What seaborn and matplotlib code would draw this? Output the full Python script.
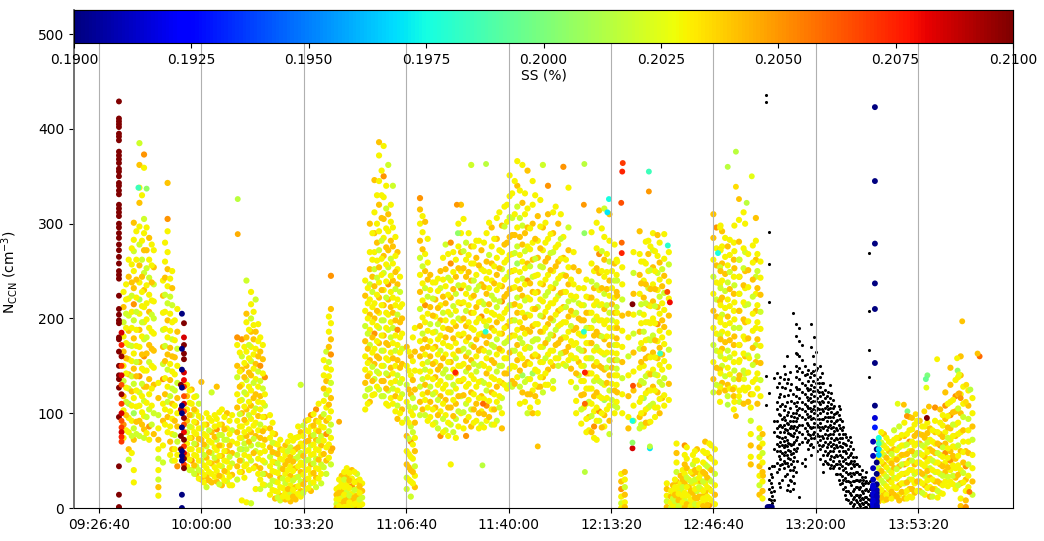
import numpy as np
import pandas as pd
import matplotlib
matplotlib.use('Agg')
import matplotlib.pyplot as plt
import seaborn as sns
from matplotlib.cm import ScalarMappable
from matplotlib.colors import Normalize
from matplotlib.ticker import FuncFormatter

# measurement columns: time (s of day), NCCN values, SS digit (0.200 + d/1000)
main_t = [
    34480, 34580, 34680, 34790, 34880, 34980, 35070, 35160, 35250, 35340, 35430, 35530,
    35720, 35810, 35900, 36000, 36100, 36200, 36300, 36400, 36500, 36600,
    36700, 36790, 36880, 36970, 37060, 37150, 37240, 37340, 37440, 37540, 37640, 37740,
    37840, 37940, 38040, 38140, 38240, 38340, 38440, 38530,
    38640, 38740, 38840, 38940, 39040, 39140,
    39200, 39290, 39380, 39470, 39560, 39650, 39740, 39830, 39920,
    40010, 40090, 40170,
    40270, 40370, 40470, 40570, 40670, 40770, 40870, 40970, 41070, 41170, 41270, 41370,
    41470, 41570, 41670, 41770, 41870, 41970, 42070, 42170, 42270, 42370, 42470, 42570,
    42670, 42770, 42870, 42970, 43070, 43170, 43270, 43370, 43470, 43570, 43670, 43770,
    43870, 43970, 44070, 44120, 44200, 44270,
    44340, 44440,
    44560, 44640, 44730, 44820, 44910, 45000, 45090, 45170,
    45210, 45280, 45360, 45440, 45520, 45600, 45680, 45760, 45840, 45920, 46000, 46060,
    46170, 46400, 46620, 46830,
    46130, 46280, 46510, 46730, 46900,
    46960,
    49230, 49330, 49430, 49530, 49630, 49730, 49830, 49930, 50030, 50130, 50230, 50330,
    50430, 50530, 50630, 50730, 50830, 50930, 51030, 51100,
]
main_n = [
    [228, 212, 196, 181, 165, 150, 134, 118, 103, 88, 74],
    [262, 244, 221, 203, 187, 172, 157, 141, 126, 110, 95, 80, 62, 51],
    [301, 283, 271, 250, 232, 215, 198, 179, 163, 147, 131, 116, 100, 84, 72, 40, 27],
    [385, 362, 338, 322, 297, 278, 256, 238, 220, 205, 188, 170, 154, 139, 122, 108, 92, 76],
    [373, 359, 305, 290, 272, 248, 230, 212, 196, 178, 160, 145, 128, 113, 97, 83, 74],
    [285, 262, 243, 225, 207, 190, 172, 154, 136, 120, 104, 86, 72],
    [272, 254, 236, 218, 200, 184, 166, 148, 130, 100, 78],
    [132, 116, 98, 84, 72, 62, 52, 40, 30, 22, 13],
    [240, 224, 206, 188, 170, 152, 136, 110, 92, 66, 48],
    [343, 305, 292, 270, 252, 234, 216, 198, 180, 162, 146, 128, 112, 96, 80],
    [250, 232, 214, 196, 178, 160, 144, 126, 110, 94, 78, 62, 50],
    [210, 186, 168, 150, 132, 116, 100, 86, 70, 56, 44],
    [130, 118, 104, 92, 80, 68, 56, 44],
    [125, 110, 98, 85, 74, 62, 50, 40],
    [118, 102, 90, 78, 67, 55, 44, 36],
    [133, 95, 84, 72, 61, 50, 38, 30],
    [100, 88, 76, 65, 53, 42, 33, 22],
    [122, 92, 80, 69, 58, 47, 36, 27],
    [128, 94, 83, 72, 61, 50, 39, 28],
    [104, 88, 77, 66, 55, 44, 33, 24],
    [100, 84, 72, 60, 49, 38, 28],
    [98, 82, 70, 58, 47, 35, 24],
    [180, 172, 150, 138, 120, 106, 92, 80, 68, 56, 44, 30],
    [178, 160, 146, 130, 114, 100, 86, 74, 62, 50, 38, 8],
    [240, 205, 196, 180, 165, 150, 135, 120, 104, 90, 76, 62, 46, 6],
    [228, 215, 200, 186, 170, 155, 140, 124, 108, 94, 80, 66, 50, 5],
    [220, 186, 168, 152, 136, 120, 105, 90, 76, 60, 44, 20],
    [180, 165, 150, 134, 118, 104, 88, 74, 58, 42, 30, 20],
    [138, 120, 108, 96, 84, 72, 60, 48, 36, 24],
    [98, 84, 74, 64, 54, 44, 34, 24, 14],
    [78, 68, 58, 48, 38, 28, 18, 10],
    [72, 62, 52, 42, 32, 22, 13, 8],
    [66, 56, 46, 36, 26, 16, 9],
    [76, 64, 54, 44, 34, 24, 15, 7],
    [74, 62, 52, 42, 32, 22, 14, 9],
    [130, 80, 68, 58, 48, 38, 28, 18, 12],
    [92, 82, 70, 60, 50, 40, 30, 20],
    [98, 86, 76, 66, 56, 46, 36, 26, 18],
    [104, 92, 82, 72, 62, 52, 42, 32, 22],
    [96, 86, 76, 66, 56, 46, 36, 26],
    [165, 148, 134, 120, 106, 92, 78, 64, 50, 36],
    [245, 210, 195, 178, 162, 146, 132, 116, 102, 88, 74, 60, 46],
    [20, 14, 9, 4, 0],
    [34, 26, 18, 11, 5, 0],
    [42, 33, 25, 17, 10, 3],
    [40, 31, 23, 15, 8, 1],
    [36, 28, 20, 13, 6, 0],
    [26, 18, 11, 4],
    [240, 224, 208, 192, 176, 160, 146, 132, 118, 104],
    [300, 270, 252, 236, 220, 204, 188, 172, 156, 142, 126, 112],
    [346, 312, 290, 270, 252, 234, 216, 200, 184, 168, 152, 136, 120],
    [386, 372, 345, 320, 292, 272, 254, 238, 222, 206, 190, 174, 158, 142, 125],
    [382, 350, 328, 305, 285, 266, 248, 230, 214, 198, 182, 166, 150, 134, 118],
    [362, 310, 292, 272, 254, 236, 220, 204, 188, 172, 156, 140, 124, 108],
    [340, 296, 276, 258, 240, 222, 206, 190, 174, 158, 142, 126, 110],
    [270, 252, 236, 220, 204, 188, 172, 156, 140, 124, 108, 94],
    [215, 200, 184, 168, 152, 136, 120, 104, 90],
    [170, 150, 130, 112, 94, 76, 60, 46, 32, 20],
    [160, 140, 120, 102, 86, 70, 54, 40, 28, 12],
    [190, 165, 145, 125, 106, 90, 74, 60, 44, 34, 22],
    [327, 315, 300, 282, 264, 246, 228, 210, 192, 176, 160, 144, 128, 112, 98],
    [302, 268, 250, 232, 214, 196, 178, 162, 146, 130, 114, 98],
    [246, 230, 212, 194, 176, 160, 144, 128, 112, 96],
    [238, 220, 202, 186, 170, 154, 138, 122, 106, 90],
    [250, 232, 214, 198, 182, 166, 150, 134, 118, 102, 76],
    [278, 252, 234, 216, 198, 180, 162, 146, 130, 114, 98, 82],
    [280, 258, 240, 222, 204, 188, 170, 154, 138, 122, 106, 88, 46],
    [262, 244, 226, 208, 192, 174, 158, 142, 126, 110, 94, 74],
    [320, 290, 270, 250, 232, 216, 198, 182, 166, 150, 134, 118, 100],
    [280, 262, 244, 226, 208, 192, 176, 160, 144, 128, 110, 92, 76],
    [362, 276, 258, 240, 222, 206, 190, 172, 156, 140, 122, 104, 86],
    [282, 264, 246, 230, 212, 196, 178, 160, 144, 128, 110, 92],
    [272, 252, 236, 218, 202, 184, 168, 152, 134, 118, 102, 88],
    [290, 260, 242, 226, 208, 192, 174, 158, 142, 124, 108, 92],
    [296, 276, 258, 240, 224, 206, 190, 172, 156, 138, 122, 104, 88],
    [306, 284, 264, 246, 230, 212, 196, 178, 162, 144, 128, 112, 92],
    [298, 270, 252, 234, 218, 200, 184, 166, 150, 132, 116, 100, 84],
    [320, 302, 280, 262, 244, 226, 210, 192, 176, 158, 142, 126],
    [332, 306, 288, 268, 250, 232, 214, 198, 182, 166, 150, 134, 128],
    [366, 340, 318, 296, 276, 258, 240, 222, 206, 188, 172, 156, 138],
    [362, 322, 298, 278, 260, 242, 224, 206, 190, 174, 158, 140, 122],
    [356, 316, 296, 276, 258, 240, 222, 204, 188, 170, 154, 136, 120, 100],
    [345, 320, 300, 280, 262, 244, 228, 210, 192, 176, 160, 142, 124, 100],
    [308, 282, 264, 246, 228, 212, 194, 178, 160, 144, 128, 112, 100],
    [362, 296, 272, 254, 236, 218, 202, 186, 170, 154, 138, 122],
    [340, 310, 284, 264, 246, 228, 212, 194, 178, 162, 146, 130],
    [312, 290, 270, 250, 232, 216, 198, 182, 166, 150, 134, 126],
    [300, 278, 260, 242, 224, 208, 192, 174, 158, 150],
    [360, 286, 264, 246, 228, 212, 196, 180, 164, 152],
    [338, 296, 272, 254, 236, 218, 202, 186, 170, 156],
    [270, 254, 236, 220, 204, 188, 172, 158],
    [250, 232, 216, 200, 184, 168, 154, 140],
    [232, 214, 198, 182, 166, 150, 134, 120, 106],
    [222, 206, 190, 174, 158, 142, 126, 112, 96, 82],
    [250, 232, 214, 198, 182, 166, 150, 134, 118, 102, 86, 74],
    [314, 268, 248, 230, 214, 198, 182, 166, 150, 134, 118, 102, 92],
    [316, 286, 262, 244, 226, 210, 194, 178, 162, 146, 130, 114, 98, 86],
    [310, 282, 260, 240, 224, 206, 190, 172, 156, 140, 124, 108, 92, 78],
    [278, 258, 240, 222, 206, 190, 172, 156, 140, 124, 108, 100],
    [260, 240, 224, 206, 190, 172, 156, 140, 122, 106],
    [36, 28, 20, 12, 5, 0],
    [38, 30, 22, 14, 6, 1],
    [205, 180, 160, 140, 118, 96, 84],
    [270, 248, 226, 204, 184, 164, 144, 124, 108, 92],
    [292, 268, 246, 226, 206, 186, 168, 148, 130, 112, 96, 84],
    [260, 240, 222, 204, 186, 168, 150, 132, 116, 100, 86],
    [282, 268, 250, 232, 214, 196, 178, 160, 142, 124, 106, 90],
    [290, 272, 254, 236, 218, 200, 182, 164, 146, 128, 110],
    [288, 266, 248, 230, 212, 194, 176, 158, 140, 122, 106],
    [252, 234, 216, 198, 180, 162, 146, 130, 116],
    [26, 20, 13, 7, 1],
    [18, 12, 6, 0],
    [24, 17, 10, 3],
    [68, 58, 48, 38, 28, 20, 12, 5],
    [34, 26, 18, 10, 3],
    [66, 56, 46, 36, 26, 16, 8, 1],
    [30, 22, 14, 6],
    [56, 46, 36, 26, 16, 8, 0],
    [62, 50, 38, 28, 18, 10, 2],
    [36, 28, 20, 12, 5],
    [70, 58, 46, 36, 26, 16, 8, 0],
    [68, 54, 42, 30, 20, 10, 3],
    [310, 285, 262, 244, 226, 208, 190, 172, 154, 136, 122],
    [296, 274, 256, 238, 220, 202, 184, 166, 148, 130],
    [292, 276, 258, 240, 222, 204, 186, 168, 150, 132],
    [280, 262, 244, 226, 208, 190, 172, 154, 136, 118, 104],
    [300, 270, 250, 232, 214, 196, 178, 160, 142, 124],
    [306, 282, 262, 244, 226, 208, 190, 172, 154, 136],
    [296, 272, 254, 236, 218, 200, 182, 164, 146, 128, 112],
    [276, 256, 238, 220, 202, 184, 166, 148, 130, 118],
    [262, 244, 226, 208, 190, 172, 156, 140, 124, 112],
    [120, 106, 92, 78, 66, 54, 46],
    [84, 74, 64, 54, 44, 34, 24, 14],
    [78, 68, 58, 48, 38, 28, 18, 10],
    [72, 62, 52, 42, 32, 22, 13, 7],
    [78, 66, 56, 46, 36, 26, 16, 8],
    [70, 60, 50, 40, 30, 20, 12],
    [82, 72, 62, 52, 42, 32, 22, 14],
    [86, 74, 64, 54, 44, 34, 24, 14, 8],
    [90, 76, 66, 56, 46, 36, 26, 16, 10],
    [96, 82, 70, 60, 50, 40, 30, 20, 12],
    [88, 76, 66, 56, 46, 36, 26, 16],
    [92, 78, 68, 58, 48, 38, 28, 18],
    [86, 74, 64, 54, 44, 34, 24, 14],
    [84, 72, 62, 52, 42, 32, 22, 12],
    [106, 92, 80, 68, 58, 48, 38, 28, 20],
    [104, 90, 78, 66, 56, 46, 36, 26, 16],
    [122, 108, 94, 80, 68, 58, 48, 38, 28],
    [148, 130, 112, 98, 84, 72, 60, 50, 40, 28],
    [135, 118, 102, 88, 76, 64, 52, 42, 32, 20],
    [160, 140, 120, 100, 80, 60, 40, 26, 10, 2],
    [60, 44, 30, 18, 8, 1],
]
main_ss = [
    '34234324353', '34324234213342', '43234524342312433', '243432431343452342', '53234243325342342',
    '4323434243253', '34232343424', '34234323243', '34324253432', '453343243423243', '3423243243342',
    '34232434235', '34342343', '43234352', '23434324', '43243234', '34324342', '23432434', '43523434',
    '34234234', '4324332', '3234243', '534234343242', '524324321243', '24343423434233', '33243243434222',
    '243434234243', '345243243432', '5324343242', '343423423', '43243234', '34324342', '4343234',
    '32434324', '34243434', '243234243', '43432343', '534234324', '543432342', '43243232', '2342345342',
    '5434532432342', '34324', '434243', '343243', '435342', '243434', '3423', '3432433423', '434234324324',
    '4343243453423', '433432434324432', '353434234243242', '24342543243423', '2343434234323', '434325342324',
    '343243243', '4323243422', '4343253432', '34342434234', '543423424343242', '434253432432', '4342343243',
    '3432434342', '42343243435', '243434323432', '5534243432423', '342343243423', '4343543423423',
    '2343243423245', '2434343243424', '343243432343', '434253432432', '343432434253', '4343234243432',
    '3434324232432', '4324534324234', '334324342343', '3243433442342', '3423213243443', '3424324342314',
    '43434532434242', '33434243424134', '4343423243433', '243243432342', '543432342343', '342343243423',
    '4343243432', '5342343243', '3243424343', '34323432', '43243242', '324342343', '4343243243',
    '343243424353', '4543234342352', '23432434243143', '43243234242342', '342343243423', '3243432342',
    '345323', '432434', '4323434', '3243243432', '434324234342', '33432432143', '343243243424',
    '32434324342', '43234534343', '243434324', '34324', '3432', '4323', '34324343', '43243', '53434324',
    '3432', '3243434', '4343243', '34343', '43243432', '3432435', '44323432342', '5343243242', '4343423424',
    '34343243243', '3243243423', '4342343243', '34234323423', '4323432342', '3423243432',
    '4323434', '32434324', '43234343', '34324324', '43243243', '3432435', '23434234',
    '242343434', '342354234', '435343243', '34324234', '43423434', '34343243', '43432434', '534343243',
    '434534243', '454345343', '4435434533', '3543434343', '4434343434', '454345',
]

# second reading pass over the dense parts
fill_t = [
    34530, 34640, 34730, 34840, 34930, 35030, 35290, 35390, 35480,
    35770, 35860, 35950, 36050, 36150, 36260, 36350, 36450, 36550,
    36750, 36840, 36930, 37020, 37110, 37200,
    37390, 37490, 37590, 37690, 37790, 37890, 37990, 38090, 38190, 38290, 38390, 38490,
    38690, 38790, 38890, 38990, 39090,
    39250, 39340, 39430, 39520, 39610, 39700, 39790, 39880,
    40050, 40130,
    40320, 40420, 40520, 40620, 40720, 40820, 40920, 41020, 41120, 41220, 41320, 41420,
    41520, 41620, 41720, 41820, 41920, 42020, 42120, 42220, 42320, 42420, 42520, 42620,
    42720, 42820, 42920, 43020, 43120, 43220, 43320, 43420, 43520, 43620, 43720, 43820,
    43920, 44020, 44110, 44220,
    44590, 44680, 44770, 44860, 44950, 45040, 45130,
    45250, 45320, 45400, 45480, 45560, 45640, 45720, 45800, 45880, 45960, 46030,
    46140, 46230, 46320, 46410, 46500, 46590, 46680, 46770, 46860, 46920,
    49280, 49380, 49480, 49580, 49680, 49780, 49880, 49980, 50080, 50180,
    50280, 50380, 50480, 50580, 50680, 50780, 50880, 50980, 51060,
]
fill_n = [
    [236, 220, 205, 190, 174, 158, 142, 127, 112, 98, 82],
    [274, 257, 238, 224, 207, 190, 171, 155, 139, 123, 108, 92, 76, 58],
    [292, 262, 241, 222, 207, 188, 171, 154, 139, 124, 107, 91, 78],
    [330, 282, 262, 244, 228, 213, 196, 181, 162, 147, 131, 118, 101, 88],
    [296, 272, 253, 235, 216, 199, 180, 163, 145, 128, 111, 96, 79],
    [278, 256, 238, 219, 204, 186, 168, 150, 126, 108, 88],
    [280, 260, 243, 225, 207, 189, 171, 155, 137, 120, 104, 88],
    [242, 223, 205, 187, 169, 152, 135, 118, 102, 86, 70, 56],
    [198, 177, 159, 141, 124, 108, 92, 77, 62, 50],
    [124, 111, 98, 86, 74, 62, 51, 40],
    [117, 104, 91, 80, 68, 56, 45, 36],
    [110, 97, 84, 73, 61, 50, 40, 31],
    [88, 78, 67, 56, 45, 35, 27],
    [95, 82, 71, 59, 48, 38, 29],
    [98, 86, 75, 64, 53, 43, 33],
    [101, 88, 77, 66, 55, 45, 34, 25],
    [96, 83, 72, 60, 50, 39, 29],
    [92, 78, 66, 54, 43, 33, 24],
    [164, 144, 128, 113, 99, 86, 74, 62, 50, 38],
    [170, 153, 138, 122, 107, 93, 80, 68, 56, 44, 32],
    [188, 172, 158, 143, 128, 112, 98, 83, 70, 54, 40],
    [207, 193, 178, 162, 147, 132, 116, 101, 87, 73, 58, 42],
    [194, 176, 160, 144, 128, 112, 97, 82, 67, 52, 36],
    [172, 157, 142, 126, 111, 96, 81, 66, 50, 36, 25],
    [90, 79, 69, 59, 49, 39, 29, 19],
    [67, 57, 47, 37, 27, 17, 11],
    [61, 51, 41, 31, 21, 12],
    [70, 60, 50, 40, 30, 20, 11],
    [71, 59, 49, 39, 29, 19, 12],
    [86, 75, 64, 54, 44, 33, 23, 15],
    [87, 76, 65, 55, 45, 35, 25, 16],
    [93, 81, 71, 61, 51, 41, 31, 21],
    [99, 87, 77, 67, 57, 47, 37, 27],
    [110, 91, 81, 71, 61, 51, 41, 31],
    [156, 140, 126, 113, 99, 85, 71, 57, 43],
    [202, 186, 170, 154, 139, 124, 109, 95, 81, 67, 53],
    [30, 22, 16, 9, 2],
    [38, 30, 22, 14, 7, 1],
    [37, 29, 21, 13, 6, 0],
    [38, 27, 19, 11, 4],
    [30, 23, 16, 9, 2],
    [232, 216, 200, 184, 168, 153, 139, 125, 110],
    [290, 262, 244, 228, 212, 196, 180, 164, 149, 134, 119],
    [330, 300, 280, 261, 243, 225, 208, 192, 176, 160, 144, 128],
    [356, 330, 306, 282, 263, 246, 230, 214, 198, 182, 166, 150, 134, 118],
    [340, 316, 295, 275, 257, 239, 222, 206, 190, 174, 158, 142, 126, 110],
    [320, 302, 282, 263, 245, 228, 212, 196, 180, 164, 148, 132, 116],
    [286, 266, 249, 231, 214, 198, 182, 166, 150, 134, 118, 102],
    [244, 228, 212, 196, 180, 164, 148, 132, 116, 100],
    [165, 145, 125, 107, 90, 73, 57, 43, 30],
    [180, 155, 135, 116, 98, 80, 67, 52, 38, 26],
    [308, 291, 273, 255, 237, 219, 201, 184, 168, 152, 136, 120, 104],
    [284, 259, 241, 223, 205, 187, 170, 154, 138, 122, 106, 92],
    [238, 221, 203, 185, 168, 152, 136, 120, 104, 88],
    [242, 229, 211, 194, 178, 162, 146, 130, 114, 98, 84],
    [264, 241, 223, 206, 190, 174, 158, 142, 126, 110, 94, 80],
    [268, 243, 225, 207, 189, 171, 154, 138, 122, 106, 90, 76],
    [270, 249, 231, 213, 196, 179, 162, 146, 130, 114, 97, 80],
    [300, 276, 253, 235, 217, 200, 183, 166, 150, 134, 118, 102, 86],
    [305, 271, 253, 235, 217, 200, 184, 168, 152, 136, 119, 101, 84],
    [290, 267, 249, 232, 214, 196, 180, 164, 148, 131, 114, 96],
    [276, 258, 240, 224, 206, 188, 170, 152, 136, 120, 104, 90],
    [282, 256, 234, 217, 200, 183, 166, 150, 133, 116, 100, 84],
    [280, 250, 233, 215, 197, 182, 166, 150, 132, 115, 99, 85],
    [301, 267, 249, 232, 215, 198, 181, 164, 147, 130, 113, 96],
    [284, 255, 237, 220, 204, 187, 170, 153, 136, 120, 104, 88],
    [312, 272, 253, 235, 218, 202, 184, 168, 150, 134, 118, 106],
    [318, 297, 278, 259, 241, 223, 206, 190, 174, 158, 142, 130],
    [351, 329, 307, 286, 267, 249, 231, 214, 197, 180, 164, 147, 130],
    [345, 310, 288, 269, 251, 233, 215, 198, 182, 166, 149, 131],
    [335, 306, 286, 267, 249, 231, 213, 196, 179, 162, 145, 128, 110],
    [332, 310, 290, 271, 253, 236, 219, 201, 184, 168, 151, 133, 112],
    [295, 273, 255, 237, 220, 203, 186, 169, 152, 136, 120, 106],
    [330, 284, 263, 245, 227, 210, 194, 178, 162, 146, 130, 118],
    [325, 297, 274, 255, 237, 220, 203, 186, 170, 154, 138, 128],
    [301, 280, 260, 241, 224, 207, 190, 174, 158, 142, 130],
    [289, 269, 251, 233, 216, 200, 183, 166, 154],
    [318, 275, 255, 237, 220, 204, 188, 172, 158],
    [310, 284, 263, 245, 227, 210, 194, 178, 163],
    [262, 245, 228, 212, 196, 180, 165, 150],
    [241, 224, 208, 192, 176, 161, 147, 133],
    [223, 206, 190, 174, 158, 142, 127, 113, 100],
    [214, 198, 182, 166, 150, 134, 119, 104, 89],
    [241, 223, 206, 190, 174, 158, 142, 126, 110, 94, 80],
    [291, 258, 239, 222, 206, 190, 174, 158, 142, 126, 110, 97, 80],
    [301, 274, 253, 235, 218, 202, 186, 170, 154, 138, 122, 106, 92, 72],
    [295, 271, 250, 232, 215, 198, 181, 164, 148, 132, 116, 100, 85],
    [268, 249, 231, 214, 198, 181, 164, 148, 132, 116, 104],
    [250, 232, 215, 198, 181, 164, 148, 131, 114],
    [262, 246, 228, 212, 196, 179, 163, 147, 130, 112],
    [254, 236, 220, 203, 187, 170, 154, 137, 120, 100],
    [260, 237, 215, 195, 174, 154, 134, 116, 100, 88],
    [281, 258, 236, 216, 196, 177, 158, 139, 121, 104, 90],
    [276, 251, 231, 213, 195, 177, 159, 141, 124, 108, 91],
    [271, 250, 231, 213, 195, 177, 159, 141, 124, 106, 96],
    [280, 259, 241, 223, 205, 187, 169, 151, 133, 115, 100],
    [289, 263, 245, 227, 209, 191, 173, 155, 137, 119, 108],
    [270, 257, 239, 221, 203, 185, 167, 149, 131, 114],
    [30, 22, 14, 7, 1],
    [22, 15, 8, 2],
    [40, 30, 22, 13, 6],
    [64, 52, 42, 32, 22, 13, 4],
    [38, 28, 18, 9, 2],
    [60, 50, 40, 30, 20, 11, 4],
    [42, 32, 22, 12, 4],
    [60, 48, 38, 28, 18, 10, 2],
    [58, 44, 32, 22, 12, 3],
    [66, 52, 40, 28, 18, 8],
    [62, 48, 36, 24, 14, 4],
    [298, 272, 250, 232, 214, 196, 178, 160, 142, 126],
    [285, 265, 247, 229, 211, 193, 175, 157, 139, 124],
    [283, 267, 249, 231, 213, 195, 177, 159, 141, 126],
    [298, 271, 253, 235, 217, 199, 181, 163, 145, 127, 112],
    [304, 281, 262, 244, 226, 208, 190, 172, 154, 136, 118],
    [312, 274, 253, 235, 217, 199, 181, 163, 145, 127, 110],
    [268, 251, 233, 215, 197, 179, 161, 143, 127, 112],
    [277, 259, 241, 223, 205, 187, 169, 151, 133, 120],
    [268, 250, 232, 214, 196, 178, 160, 142, 126, 110],
    [260, 243, 225, 207, 189, 171, 153, 135, 118],
    [80, 69, 59, 49, 39, 29, 19, 11],
    [74, 63, 53, 43, 33, 23, 14, 9],
    [68, 57, 47, 37, 27, 17, 10],
    [74, 61, 51, 41, 31, 21, 12],
    [77, 66, 56, 46, 36, 26, 17],
    [78, 67, 57, 47, 37, 27, 18, 10],
    [83, 70, 60, 50, 40, 30, 20, 11],
    [92, 79, 68, 58, 48, 38, 28, 18],
    [86, 77, 66, 56, 46, 36, 26, 16],
    [90, 79, 69, 59, 49, 39, 29, 21],
    [82, 70, 60, 50, 40, 30, 20, 12],
    [80, 68, 58, 48, 38, 28, 18, 11],
    [98, 87, 75, 64, 54, 44, 34, 24, 15],
    [110, 97, 85, 74, 63, 53, 43, 33, 23],
    [114, 101, 88, 76, 65, 55, 45, 34, 25],
    [138, 120, 105, 90, 78, 66, 55, 45, 35, 24],
    [128, 110, 96, 82, 70, 59, 48, 37, 27],
    [124, 108, 94, 82, 70, 58, 46, 34, 22],
    [116, 100, 86, 72, 56, 42, 28, 14],
]
fill_ss = [
    '33233433243342', '33423323243323', '33432332433423', '33243323432334', '34233324343233',
    '33432343332423', '33423324343342', '32334342334323', '33432342334233', '33423332433243',
    '34332342334323', '23343323432334', '33423334233243', '32343343233423', '33432333423343',
    '33243342332343', '34233433243332', '33423333243342', '33432332433423', '33423432333234',
    '32343323433243', '33433243324334', '33423343233423', '34323343323343', '33243323432332',
    '34233323343243', '33423334323343', '32433433234323', '33432343323432', '33423233433243',
    '23343342332343', '33432333423343', '34233243343323', '33423433233243', '33432334233423',
    '33423343233432', '33433243342332', '32334334233243', '34323342334323', '33243342332433',
    '34323343324332', '33324342334323', '33423343243233', '33432343342333', '33423343232342',
    '32343323343243', '33423343234333', '33423432334323', '32343342333423', '33423234334233',
    '33423233433423', '33423332432343', '33423342343323', '32433432334233', '33423343242332',
    '33423342332343', '32334332343343', '33423433234233', '33423234334233', '32433432334233',
    '33423342433323', '33243342334323', '34233342334323', '33423433234333', '32334342333423',
    '33423324334323', '33432334233233', '32433433234332', '33243342334323', '33423342323432',
    '32433433234232', '33423324334233', '33243342334323', '34233432333423', '33423324333423',
    '33432334233343', '32433423343323', '33423324333423', '32334334233423', '34323342334233',
    '33423343243342', '32433423343233', '34323342334323', '33423343233423', '33243342333243',
    '33423342334333', '32343323423343', '33423332433232', '33423343233423', '33423432334233',
    '33243342334323', '34233423323433', '33423342334233', '32433234323343', '33423432333243',
    '34323343234233', '33423433233423', '32334323433243', '33423342334323', '33423343233243',
    '34233234334233', '33423343233423', '32433433233423', '33423423343323', '33243342333423',
    '33423343233243', '32433433233423', '33423323433423', '33234332334233', '33423342333243',
    '33423343243324', '33243342334232', '33423343233423', '34233423343323', '33243433234232',
    '34323423343233', '33423342334233', '32433423343232', '33423342334323', '32334234334233',
    '33432334233423', '32433433233423', '33423342343323', '33423343233423', '32433433234232',
    '33423343243323', '34323343233423', '34233432333423', '34233433233423', '33423342334233',
    '34233423343233', '33423423343323', '33423342334323', '34233432334233', '34233233423343',
    '33243342334233', '34233423343323', '33423342334233', '34233432334323', '33423342334232',
]

# single points that stand out from the yellow mass
spot_t = [34770, 34930, 36710, 36710, 44740, 44740, 44760, 44760, 43930, 43960, 44230, 44220, 44200,
          44210, 44210, 43470, 43480, 43480, 43490, 43490, 43470, 43490, 44420, 44420, 44420, 44420,
          44430, 45110, 45100, 45150, 44960, 40990, 41010, 41560, 40960, 41500, 41550, 41490, 38560,
          38690, 42570, 46440, 46280, 46750, 46440, 46500, 46650, 46090, 46110, 50860, 51200, 51160,
          50370, 50760, 50770, 50180, 50150, 50800, 50170, 50160, 50800, 51020, 50830, 50930, 50210,
          50120, 49950, 49790, 49600, 49720, 49780, 51000, 49880, 50940, 46280, 46440, 46970, 46600,
          46380, 46700]
spot_n = [338, 337, 326, 289, 355, 334, 63, 65, 312, 326, 364, 355, 322, 280, 269, 320, 290, 363,
          143, 110, 186, 38, 215, 63, 69, 92, 129, 277, 228, 217, 163, 320, 290, 363, 143, 110, 186,
          45, 63, 91, 65, 376, 360, 350, 339, 326, 322, 269, 122, 197, 160, 163, 157, 158, 145, 140,
          136, 141, 95, 127, 121, 125, 116, 112, 107, 102, 99, 102, 110, 109, 97, 17, 95, 130, 109,
          97, 34, 136, 125, 158]
spot_ss = [0.1985, 0.2005, 0.2015, 0.2045, 0.1985, 0.2050, 0.1970, 0.2015, 0.1970, 0.1975, 0.2070, 0.2075, 0.2065,
           0.2060, 0.2075, 0.2050, 0.2005, 0.2015, 0.2075, 0.2060, 0.1980, 0.2015, 0.2100, 0.2085, 0.2005, 0.1975,
           0.2065, 0.1980, 0.2065, 0.2080, 0.1985, 0.2050, 0.2005, 0.2015, 0.2075, 0.2060, 0.1980, 0.2015, 0.2045,
           0.2045, 0.2040, 0.2015, 0.2015, 0.2025, 0.2035, 0.2040, 0.2015, 0.1975, 0.2040, 0.2040, 0.2060, 0.2040,
           0.2030, 0.2030, 0.2005, 0.2000, 0.1995, 0.2025, 0.2100, 0.2025, 0.2045, 0.2015, 0.2050, 0.2035, 0.2040,
           0.2035, 0.2035, 0.2000, 0.2025, 0.2040, 0.2050, 0.2055, 0.2040, 0.2035, 0.2015, 0.2040, 0.2040, 0.2025,
           0.2040, 0.2030]

# dark red and blue instrument streaks
red_t = [34390] * 51 + [34440] * 14 + [35660] * 20 + [35600] * 4
red_n = [429, 411, 408, 405, 402, 395, 392, 388, 376, 372, 368, 364, 358, 355, 350, 343, 340, 335, 331, 320,
         316, 312, 308, 300, 296, 290, 285, 278, 272, 265, 258, 250, 246, 242, 224, 210, 204, 198, 195, 180,
         178, 165, 150, 140, 136, 127, 96, 44, 14, 1, 0,
         185, 172, 160, 150, 140, 130, 120, 110, 100, 92, 85, 80, 75, 70,
         195, 180, 172, 163, 157, 143, 135, 128, 118, 110, 102, 95, 88, 80, 72, 65, 58, 52, 46, 42,
         130, 104, 76, 62]
red_ss = [0.21] * 51 + [0.2085, 0.2075, 0.2095, 0.207, 0.2085, 0.2065, 0.2095, 0.207, 0.2085, 0.2065, 0.207, 0.2085, 0.2075, 0.207] + \
         [0.21, 0.2085, 0.21, 0.21, 0.21, 0.2085, 0.208, 0.207, 0.2065, 0.2085, 0.207, 0.2095, 0.2065, 0.208, 0.21, 0.207, 0.2085, 0.21, 0.207, 0.21] + \
         [0.21, 0.209, 0.21, 0.21]
blue_t = [35620] * 12 + [49155] * 9 + [49120, 49190] * 14 + [47060, 47100, 47140] + [49230] * 4
blue_n = [205, 168, 146, 127, 108, 100, 85, 60, 55, 50, 14, 0,
          423, 345, 279, 237, 210, 153, 108, 95, 85,
          70, 62, 55, 48, 42, 36, 30, 25, 20, 16, 12, 8, 4, 0, 24, 19, 15, 11, 8, 6, 4, 2, 1, 0, 22, 13, 6, 3,
          1, 1, 1, 74, 68, 62, 56]
blue_ss = [0.19] * 19 + [0.1915, 0.193] + [0.191, 0.19] * 7 + [0.1915, 0.191] * 7 + [0.19] * 3 + [0.1975, 0.1985, 0.197, 0.1965]

# black points have no SS reading
black_spot_t = [47030, 47030, 47080, 47080, 47560, 47080, 47030, 47080, 47030, 49040, 49040, 49040, 49040]
black_spot_n = [436, 428, 291, 258, 206, 217, 139, 121, 109, 269, 208, 167, 138]
black_col_t = [47090, 47120, 47150, 47180, 47250, 47310, 47370, 47430, 47490, 47550, 47610, 47670, 47730,
               47790, 47850, 47910, 47970, 48030, 48090, 48150, 48210, 48270, 48330, 48390, 48450, 48510,
               48570, 48630, 48690, 48750, 48810, 48870, 48930, 48990, 49050,
               47280, 47340, 47400, 47460, 47520, 47580, 47640, 47820, 47880, 47940, 48000, 48060, 48120,
               48180, 48240, 48300, 48360, 48420, 48480, 48540, 48600, 48660, 48720, 48780, 48840, 48900,
               48960, 49020, 49080, 49110]
black_col_n = [
    [42, 30, 20, 10, 3], [36, 26, 17, 8, 1], [44, 33, 22, 13, 5], [137, 92, 80, 62, 44, 18, 8],
    [142, 128, 112, 104, 92, 84, 76, 68, 60, 48, 38], [138, 120, 108, 98, 88, 80, 70, 60, 52, 45, 22],
    [150, 136, 118, 103, 96, 88, 80, 71, 64, 56, 50, 42], [160, 132, 112, 98, 90, 82, 72, 65, 56, 48, 36, 19],
    [144, 124, 106, 92, 84, 78, 68, 60, 52, 40, 30, 18], [120, 100, 92, 84, 76, 68, 58, 50, 40, 34, 20],
    [194, 182, 164, 150, 138, 128, 118, 108, 100, 92, 82, 72, 60, 38],
    [190, 176, 160, 148, 136, 126, 116, 106, 98, 88, 80, 68, 12],
    [172, 156, 144, 132, 122, 112, 104, 96, 88, 78, 70, 48],
    [150, 140, 130, 120, 110, 102, 94, 84, 74, 52, 44],
    [146, 134, 124, 114, 106, 96, 88, 78, 72, 62],
    [194, 170, 142, 130, 120, 112, 102, 94, 84, 74, 68, 56],
    [180, 152, 140, 128, 118, 108, 100, 90, 80, 74],
    [148, 136, 124, 116, 106, 98, 88, 78, 70, 60],
    [150, 138, 128, 118, 110, 100, 90, 82, 72, 62, 52],
    [132, 120, 112, 102, 94, 84, 74, 66, 56, 46, 38],
    [118, 108, 100, 92, 82, 74, 64, 56, 48],
    [130, 116, 106, 96, 88, 78, 70, 60, 52, 42],
    [114, 106, 96, 86, 78, 68, 60, 50, 42],
    [100, 92, 84, 74, 66, 56, 46, 36],
    [108, 98, 88, 78, 70, 60, 50, 42, 30],
    [92, 82, 74, 64, 54, 44, 34, 26],
    [78, 68, 60, 52, 42, 32, 22, 14],
    [72, 62, 54, 46, 36, 28, 18, 8],
    [70, 58, 50, 42, 34, 24, 14, 6],
    [50, 44, 36, 28, 20, 12, 4],
    [46, 38, 30, 22, 14, 6, 0],
    [36, 30, 22, 14, 8, 2],
    [30, 24, 16, 10, 4, 0],
    [38, 28, 20, 12, 6, 1],
    [28, 20, 14, 8, 2, 0],
    [132, 117, 99, 87, 75, 65, 55, 41, 26],
    [128, 110, 94, 85, 74, 66, 58, 46, 30],
    [141, 127, 108, 93, 83, 75, 67, 59, 47, 34],
    [136, 119, 101, 89, 79, 69, 61, 53, 44, 24],
    [131, 113, 97, 87, 77, 66, 57, 46, 28],
    [111, 96, 87, 79, 70, 62, 54, 43, 26],
    [163, 145, 126, 112, 103, 95, 85, 75, 63, 50],
    [141, 127, 117, 108, 99, 90, 81, 70],
    [138, 126, 116, 106, 97, 86, 77, 66],
    [160, 145, 134, 123, 113, 104, 95, 86, 78, 64],
    [165, 146, 132, 123, 113, 103, 94, 85, 76],
    [132, 122, 112, 104, 94, 86, 76, 66],
    [142, 132, 122, 113, 104, 94, 85, 76, 65],
    [125, 116, 106, 96, 87, 78, 70, 60, 50],
    [122, 112, 104, 96, 86, 77, 68, 58, 46],
    [121, 110, 101, 92, 84, 74, 65, 55, 45],
    [108, 99, 90, 81, 72, 63, 54, 44],
    [101, 93, 82, 73, 64, 55, 46, 36],
    [104, 94, 84, 74, 65, 56, 46, 36, 25],
    [86, 78, 69, 60, 50, 40, 30, 20],
    [75, 66, 58, 48, 38, 28, 18, 10],
    [75, 65, 56, 47, 37, 27, 16, 5],
    [62, 54, 46, 37, 28, 18, 9, 2],
    [54, 46, 38, 30, 22, 14, 8],
    [44, 36, 28, 20, 12, 4],
    [40, 33, 26, 18, 11, 5],
    [33, 26, 19, 12, 6, 1],
    [26, 18, 10, 4],
    [22, 16, 9, 3],
]

tick_times = [34000, 36000, 38000, 40000, 42000, 44000, 46000, 48000, 50000]
y_ticks = [0, 100, 200, 300, 400, 500]
ss_ticks = [0.19, 0.1925, 0.195, 0.1975, 0.2, 0.2025, 0.205, 0.2075, 0.21]


def hms(value, pos=None):
    value = int(value)
    return f'{value // 3600:02d}:{value % 3600 // 60:02d}:{value % 60:02d}'


def column_frame(times, values, codes) -> pd.DataFrame:
    """Flattens measurement columns"""
    rows = []
    for t, col_n, col_ss in zip(times, values, codes):
        for n, code in zip(col_n, col_ss):
            rows.append((t, n, 0.2 + int(code) / 1000))
    return pd.DataFrame(rows, columns=['time', 'nccn', 'ss'])


def black_frame() -> pd.DataFrame:
    """Points without SS"""
    rows = list(zip(black_spot_t, black_spot_n))
    for t, values in zip(black_col_t, black_col_n):
        rows += [(t, n) for n in values]
    return pd.DataFrame(rows, columns=['time', 'nccn'])


jet = plt.get_cmap('jet')
fig = plt.figure(figsize=(10.44, 5.41), dpi=100)
ax = fig.add_axes([74 / 1044, 33 / 541, 939 / 1044, 498 / 541])
norm = dict(hue='ss', palette=jet, hue_norm=(0.19, 0.21), linewidth=0, legend=False, ax=ax)

sns.scatterplot(data=column_frame(main_t, main_n, main_ss), x='time', y='nccn', s=20, **norm)
sns.scatterplot(data=column_frame(fill_t, fill_n, fill_ss), x='time', y='nccn', s=20, **norm)
sns.scatterplot(data=pd.DataFrame({'time': spot_t, 'nccn': spot_n, 'ss': spot_ss}), x='time', y='nccn', s=18, **norm)
sns.scatterplot(data=pd.DataFrame({'time': red_t, 'nccn': red_n, 'ss': red_ss}), x='time', y='nccn', s=18, **norm)
sns.scatterplot(data=black_frame(), x='time', y='nccn', s=5, color='k', linewidth=0, ax=ax)
sns.scatterplot(data=pd.DataFrame({'time': blue_t, 'nccn': blue_n, 'ss': blue_ss}), x='time', y='nccn', s=18, **norm)

ax.set_xlim(33512, 51852)
ax.set_ylim(0, 525.5)
ax.set_xticks(tick_times)
ax.xaxis.set_major_formatter(FuncFormatter(hms))
ax.set_yticks(y_ticks)
ax.grid(True, axis='x', color='#b0b0b0', linewidth=0.8)
ax.set_xlabel('')
ax.set_ylabel(r'N$_{\mathrm{CCN}}$ (cm$^{-3}$)')
ax.yaxis.set_label_coords(-0.0575, 0.474)
ax.spines['left'].set_color('#666666')
ax.spines['left'].set_linewidth(1.3)

cax = fig.add_axes([74 / 1044, 498 / 541, 939 / 1044, 33 / 541])
cb = fig.colorbar(ScalarMappable(norm=Normalize(0.19, 0.21), cmap=jet), cax=cax, orientation='horizontal')
cb.set_ticks(ss_ticks)
cb.ax.xaxis.set_major_formatter(FuncFormatter(lambda v, p: f'{v:.4f}'))
cb.set_label('SS (%)', labelpad=1)

fig.savefig('out.png', dpi=100)
